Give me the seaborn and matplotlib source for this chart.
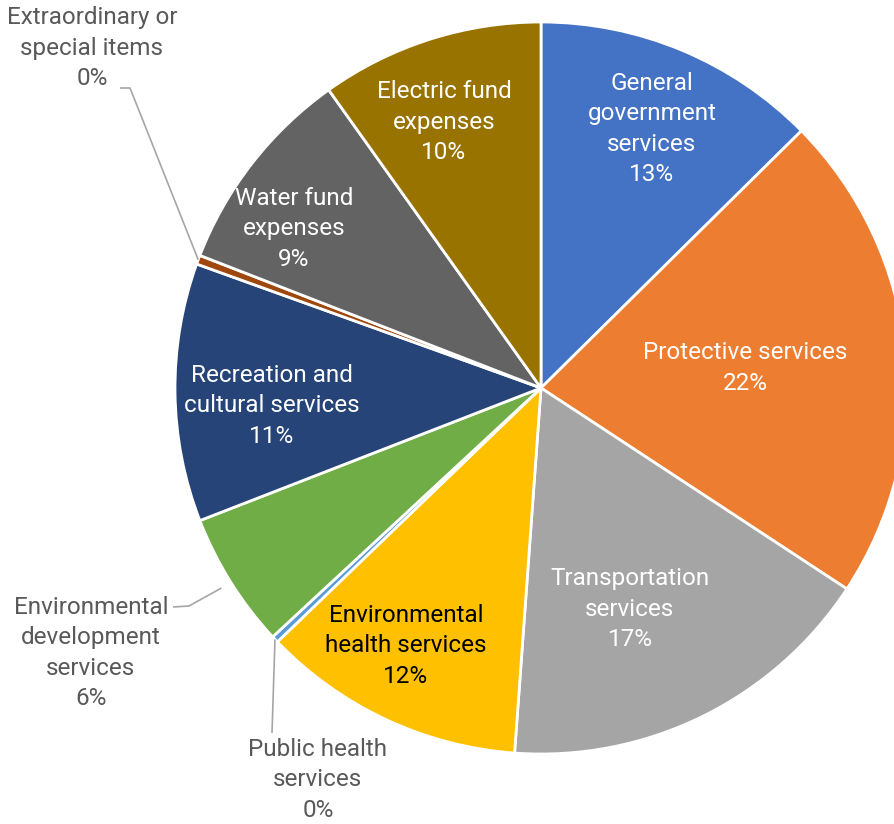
import numpy as np
import matplotlib
matplotlib.use("Agg")
import matplotlib.pyplot as plt
import seaborn as sns

# data (percent of total spending)
categories = [
    "General\ngovernment\nservices",
    "Protective services",
    "Transportation\nservices",
    "Environmental\nhealth services",
    "Public health\nservices",
    "Environmental\ndevelopment\nservices",
    "Recreation and\ncultural services",
    "Extraordinary or\nspecial items",
    "Water fund\nexpenses",
    "Electric fund\nexpenses",
]
values = [12.6, 21.65, 16.9, 11.65, 0.3, 6.0, 11.4, 0.4, 9.25, 9.85]
colors = ["#4472C4", "#ED7D31", "#A5A5A5", "#FFC000", "#5B9BD5",
          "#70AD47", "#264478", "#9E480E", "#636363", "#997300"]

sns.set_style("white")
plt.rcParams["font.family"] = ["Roboto", "DejaVu Sans"]

W, H = 895, 824
CX, CY, R = 541, 388, 366  # pie centre / radius in pixels


def px(x, y):
    # pixel position (from top-left) -> data coords of the pie axes
    return (x - CX) / R, (CY - y) / R


fig = plt.figure(figsize=(W / 100, H / 100), dpi=100)
ax = fig.add_axes([0, 0, 1, 1])
wedges, _ = ax.pie(values, colors=sns.color_palette(colors), startangle=90,
                   counterclock=False, radius=1,
                   wedgeprops=dict(edgecolor="white", linewidth=2))
ax.set_aspect("auto")
ax.set_xlim(-CX / R, (W - CX) / R)
ax.set_ylim((CY - H) / R, CY / R)
ax.axis("off")

total = sum(values)
pcts = [f"{v / total * 100:.0f}%" for v in values]

# label centres (pixels) and text colours
label_pos = [(652, 129), (745, 368), (630, 609), (406, 646), (318, 780),
             (91, 653), (272, 406), (92, 48), (294, 229), (444, 122)]
text_col = ["white", "white", "white", "black", "#595959",
            "#595959", "white", "#595959", "white", "white"]

for cat, pct, pos, col in zip(categories, pcts, label_pos, text_col):
    ax.text(*px(*pos), f"{cat}\n{pct}", ha="center", va="center",
            multialignment="center", fontsize=17.5, color=col, linespacing=1.42)


def wedge_point(w, r=1.0):
    a = np.deg2rad((w.theta1 + w.theta2) / 2)
    return r * np.cos(a), r * np.sin(a)


# leader lines for the outside labels: (wedge index, label-side points, radius)
leaders = [
    (7, [(120, 88), (130, 88)], 1.0),
    (5, [(173, 607), (189, 606)], 1.03),
    (4, [(272, 733)], 1.0),
]
for idx, pts, r in leaders:
    xy = [px(*p) for p in pts] + [wedge_point(wedges[idx], r)]
    xs, ys = zip(*xy)
    ax.plot(xs, ys, color="#A6A6A6", lw=1.2, solid_capstyle="butt")

fig.savefig("out.png", dpi=100)
